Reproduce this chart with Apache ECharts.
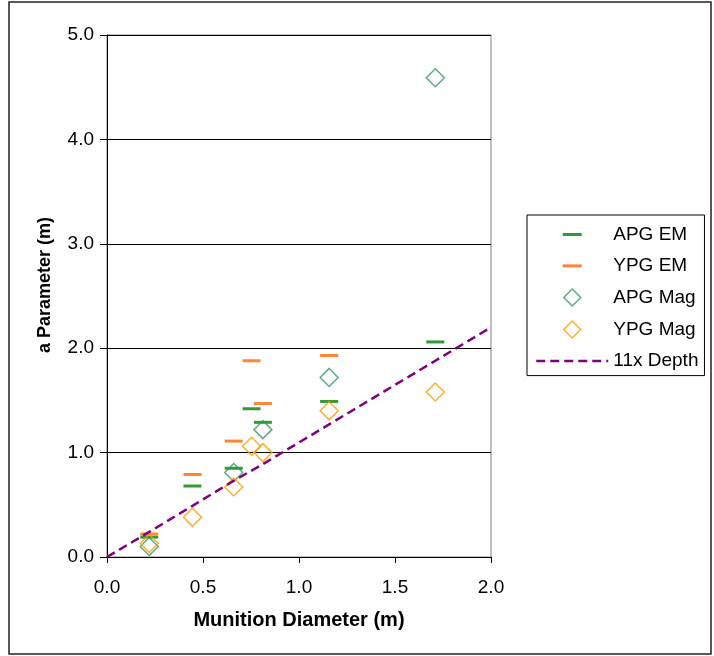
<!DOCTYPE html>
<html>
<head>
<meta charset="utf-8">
<script src="https://cdn.jsdelivr.net/npm/echarts@6/dist/echarts.min.js"></script>
<style>
  html, body { margin: 0; padding: 0; background: #fff; }
  #chart { width: 714px; height: 656px; }
</style>
</head>
<body>
<div id="chart"></div>
<script>
// Munition diameter (m) vs fitted "a" parameter (m)
const apgEmX = [0.22, 0.445, 0.66, 0.753, 0.812, 1.157, 1.71];
const apgEmY = [0.19, 0.68, 0.85, 1.42, 1.29, 1.49, 2.06];

const ypgEmX = [0.22, 0.445, 0.66, 0.753, 0.812, 1.157];
const ypgEmY = [0.22, 0.79, 1.11, 1.88, 1.47, 1.93];

const apgMagX = [0.22, 0.66, 0.812, 1.157, 1.71];
const apgMagY = [0.10, 0.81, 1.22, 1.72, 4.59];

const ypgMagX = [0.22, 0.445, 0.66, 0.753, 0.812, 1.157, 1.71];
const ypgMagY = [0.13, 0.38, 0.67, 1.06, 1.00, 1.40, 1.58];

const depthX = [0, 0.22, 0.445, 0.66, 0.812, 1.157, 1.71, 2.0];
const depthY = [0, 0.24, 0.49, 0.73, 0.89, 1.27, 1.88, 2.2];

const xTicks = ['0.0', '0.5', '1.0', '1.5', '2.0'];
const yTicks = ['0.0', '1.0', '2.0', '3.0', '4.0', '5.0'];

const seriesNames = ['APG EM', 'YPG EM', 'APG Mag', 'YPG Mag', '11x Depth'];

const pairs = (xs, ys) => xs.map((x, i) => [x, ys[i]]);

const FONT = '"Liberation Sans", Arial, sans-serif';

// legend icons: a 72x18 box (set by the first two moves) holding a centred mark
const dashIcon = 'path://M0,0M72,18M26.5,7.5L45.5,7.5L45.5,10.5L26.5,10.5Z';
const diamondIcon = 'path://M0,0M72,18M36,0.5L44.5,9L36,17.5L27.5,9Z';

const chart = echarts.init(document.getElementById('chart'), null, { renderer: 'canvas' });

chart.setOption({
  animation: false,
  backgroundColor: '#fff',
  grid: {
    left: 107, top: 35, width: 384, height: 522,
    show: true, borderColor: '#808080', borderWidth: 1, backgroundColor: 'transparent'
  },
  xAxis: {
    type: 'value', min: 0, max: 2, interval: 0.5,
    name: 'Munition Diameter (m)',
    nameLocation: 'middle', nameGap: 53,
    nameTextStyle: { fontFamily: FONT, fontSize: 20, fontWeight: 'bold', color: '#000' },
    axisLine: { show: true, lineStyle: { color: '#000', width: 1 } },
    axisTick: { show: true, length: 6, lineStyle: { color: '#000' } },
    axisLabel: {
      margin: 21, fontFamily: FONT, fontSize: 19, color: '#000',
      formatter: (v) => xTicks[Math.round(v / 0.5)]
    },
    splitLine: { show: false }
  },
  yAxis: {
    type: 'value', min: 0, max: 5, interval: 1,
    axisLine: { show: true, lineStyle: { color: '#000', width: 1 } },
    axisTick: { show: true, length: 7, lineStyle: { color: '#000' } },
    axisLabel: {
      margin: 13, fontFamily: FONT, fontSize: 19, color: '#000',
      formatter: (v) => yTicks[Math.round(v)]
    },
    splitLine: { show: true, lineStyle: { color: '#000', width: 1 } }
  },
  legend: {
    orient: 'vertical',
    left: 527, top: 215,
    padding: [10, 6, 5, 8],
    itemWidth: 72, itemHeight: 18, itemGap: 12.4,
    borderColor: '#000', borderWidth: 1,
    backgroundColor: '#fff',
    textStyle: { fontFamily: FONT, fontSize: 19, color: '#000', lineHeight: 18 },
    data: [
      { name: seriesNames[0], icon: dashIcon },
      { name: seriesNames[1], icon: dashIcon },
      { name: seriesNames[2], icon: diamondIcon, itemStyle: { borderWidth: 1.5 } },
      { name: seriesNames[3], icon: diamondIcon, itemStyle: { borderWidth: 1.5 } },
      {
        name: seriesNames[4],
        lineStyle: { width: 2.5 },
        itemStyle: { color: 'rgba(0,0,0,0)', borderWidth: 0, opacity: 0 }
      }
    ]
  },
  graphic: [
    {
      type: 'rect', silent: true, z: 100,
      shape: { x: 9, y: 2, width: 702, height: 652 },
      style: { fill: 'none', stroke: '#222', lineWidth: 1.5 }
    },
    {
      type: 'text', silent: true,
      x: 45, y: 285, rotation: Math.PI / 2,
      style: {
        text: 'a Parameter (m)',
        font: 'bold 18px "Liberation Sans", Arial, sans-serif',
        fill: '#000', textAlign: 'center', textVerticalAlign: 'middle'
      }
    }
  ],
  series: [
    {
      name: seriesNames[0], type: 'scatter',
      symbol: 'rect', symbolSize: [18, 3],
      itemStyle: { color: '#008000' },
      data: pairs(apgEmX, apgEmY)
    },
    {
      name: seriesNames[1], type: 'scatter',
      symbol: 'rect', symbolSize: [18, 3],
      itemStyle: { color: '#FF6600' },
      data: pairs(ypgEmX, ypgEmY)
    },
    {
      name: seriesNames[2], type: 'scatter',
      symbol: 'diamond', symbolSize: 18,
      itemStyle: { color: 'rgba(0,0,0,0)', borderColor: '#339966', borderWidth: 1.5 },
      data: pairs(apgMagX, apgMagY)
    },
    {
      name: seriesNames[3], type: 'scatter',
      symbol: 'diamond', symbolSize: 18,
      itemStyle: { color: 'rgba(0,0,0,0)', borderColor: '#FF9900', borderWidth: 1.5 },
      data: pairs(ypgMagX, ypgMagY)
    },
    {
      name: seriesNames[4], type: 'line',
      symbol: 'none', showSymbol: false,
      lineStyle: { color: '#800080', width: 2.5, type: [9, 5] },
      itemStyle: { color: '#800080' },
      data: pairs(depthX, depthY)
    }
  ]
});
</script>
</body>
</html>
